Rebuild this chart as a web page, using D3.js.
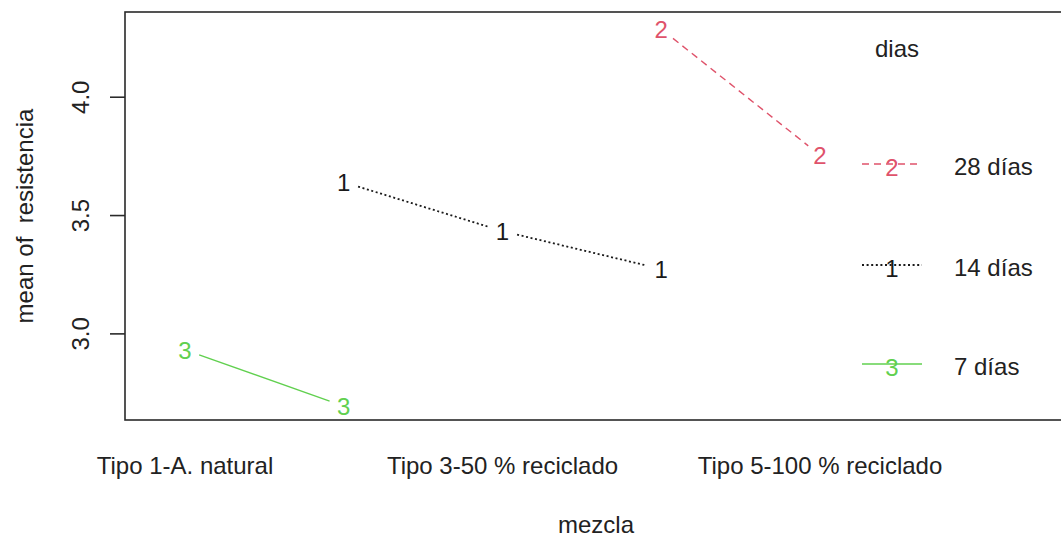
<!DOCTYPE html>
<html>
<head>
<meta charset="utf-8">
<script src="https://cdn.jsdelivr.net/npm/d3@7"></script>
<style>
  html, body { margin: 0; padding: 0; background: #fff; }
  svg { display: block; font-family: "Liberation Sans", Arial, sans-serif; }
</style>
</head>
<body>
<svg id="chart" width="1061" height="539"></svg>
<script>
// Mixture levels (x factor) and the labels shown under them
const categories = ["Tipo 1", "Tipo 2", "Tipo 3", "Tipo 4", "Tipo 5"];
const tickLabels = ["Tipo 1-A. natural", "", "Tipo 3-50 % reciclado", "", "Tipo 5-100 % reciclado"];

// Mean resistance per mixture, one array per curing age (null = no data)
const dias28 = [null, null, null, 4.286, 3.753];
const dias14 = [null, 3.639, 3.432, 3.272, null];
const dias7  = [2.930, 2.693, null, null, null];

const yTicks = [3.0, 3.5, 4.0];

const series = [
  { name: "28 días", sym: "2", values: dias28, color: "#DF536B", dash: "7,5", width: 1.4 },
  { name: "14 días", sym: "1", values: dias14, color: "#1a1a1a", dash: "2,2.6", width: 1.8 },
  { name: "7 días",  sym: "3", values: dias7,  color: "#61D04F", dash: null, width: 1.4 }
];

const svg = d3.select("#chart");
const plot = { left: 125, top: 12, right: 1066, bottom: 420 };
const fs = 24;
const ink = "#222";

const x = d3.scaleLinear().domain([0, categories.length - 1]).range([185, 820]);
const y = d3.scaleLinear().domain([2.634, 4.358]).range([plot.bottom, plot.top]);

// Plot frame
svg.append("rect")
  .attr("x", plot.left).attr("y", plot.top)
  .attr("width", plot.right - plot.left).attr("height", plot.bottom - plot.top)
  .attr("fill", "none").attr("stroke", "#2a2a2a").attr("stroke-width", 1.6);

// Y axis with rotated labels
const yAxis = svg.append("g")
  .attr("transform", `translate(${plot.left},0)`)
  .call(d3.axisLeft(y).tickValues(yTicks).tickFormat(d3.format(".1f")).tickSize(15).tickPadding(0));
yAxis.select(".domain").remove();
yAxis.selectAll(".tick line").attr("stroke", "#2a2a2a").attr("stroke-width", 1.6);
yAxis.selectAll(".tick text")
  .attr("x", 0).attr("dy", null)
  .attr("transform", "translate(-36,0) rotate(-90)")
  .attr("text-anchor", "middle")
  .attr("dominant-baseline", "alphabetic")
  .attr("font-size", fs).attr("fill", ink)
  .style("font-family", "Liberation Sans, Arial, sans-serif");

// X category labels
svg.append("g").selectAll("text")
  .data(tickLabels)
  .join("text")
  .attr("x", (d, i) => x(i))
  .attr("y", 474)
  .attr("text-anchor", "middle")
  .attr("font-size", fs).attr("fill", ink)
  .text(d => d);

// Axis titles
svg.append("text")
  .attr("x", (plot.left + 1061) / 2 + 3).attr("y", 533)
  .attr("text-anchor", "middle").attr("font-size", fs).attr("fill", ink)
  .text("mezcla");
svg.append("text")
  .attr("transform", `translate(33,${(plot.top + plot.bottom) / 2}) rotate(-90)`)
  .attr("text-anchor", "middle").attr("font-size", fs).attr("fill", ink)
  .attr("xml:space", "preserve")
  .text("mean of  resistencia");

// Lines between adjacent points, with a gap around each symbol
const gap = 15;
series.forEach(s => {
  const pts = s.values.map((v, i) => v == null ? null : [x(i), y(v)]);
  const segs = [];
  for (let i = 0; i < pts.length - 1; i++) {
    if (pts[i] && pts[i + 1]) {
      const [x0, y0] = pts[i], [x1, y1] = pts[i + 1];
      const len = Math.hypot(x1 - x0, y1 - y0);
      const ux = (x1 - x0) / len, uy = (y1 - y0) / len;
      segs.push([x0 + ux * gap, y0 + uy * gap, x1 - ux * gap, y1 - uy * gap]);
    }
  }
  svg.append("g").selectAll("line").data(segs).join("line")
    .attr("x1", d => d[0]).attr("y1", d => d[1])
    .attr("x2", d => d[2]).attr("y2", d => d[3])
    .attr("stroke", s.color).attr("stroke-width", s.width)
    .attr("stroke-dasharray", s.dash);
  svg.append("g").selectAll("text")
    .data(pts.filter(p => p))
    .join("text")
    .attr("x", d => d[0]).attr("y", d => d[1] + fs * 0.36)
    .attr("text-anchor", "middle").attr("font-size", fs)
    .attr("fill", s.color)
    .text(s.sym);
});

// Legend
const leg = svg.append("g");
leg.append("text")
  .attr("x", 897).attr("y", 57)
  .attr("text-anchor", "middle").attr("font-size", fs).attr("fill", ink)
  .text("dias");
const legY = [164, 265, 364];
series.forEach((s, i) => {
  const g = leg.append("g").attr("transform", `translate(0,${legY[i]})`);
  g.append("line")
    .attr("x1", 862).attr("x2", 922).attr("y1", 0).attr("y2", 0)
    .attr("stroke", s.color).attr("stroke-width", s.width)
    .attr("stroke-dasharray", s.dash);
  g.append("text")
    .attr("x", 892).attr("y", fs * 0.36 + 3)
    .attr("text-anchor", "middle").attr("font-size", fs).attr("fill", s.color)
    .text(s.sym);
  g.append("text")
    .attr("x", 954).attr("y", 11)
    .attr("font-size", fs).attr("fill", ink)
    .text(s.name);
});
</script>
</body>
</html>
